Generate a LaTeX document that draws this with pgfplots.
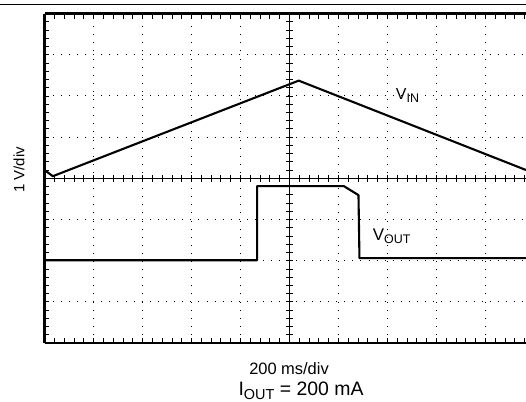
\documentclass[border=0pt]{standalone}
\usepackage{pgfplots}
\pgfplotsset{compat=1.18}
\usepackage{fontspec}
\setmainfont{Liberation Sans}

\newcommand{\sub}[1]{\raisebox{-3.5bp}{\fontsize{12.5}{12.5}\selectfont #1}}

\begin{document}
\begin{tikzpicture}
  \path[use as bounding box] (0,0) rectangle (526bp,402bp);
  % thin frame line above the plot
  \draw[line width=0.9bp] (0,398bp) -- (526bp,398bp);

  \begin{axis}[
      at={(44.5bp,59bp)}, anchor=south west,
      scale only axis,
      width=481.5bp, height=329.5bp,
      xmin=0, xmax=9.83,
      ymin=0, ymax=8,
      axis y line*=left,
      axis line style={line width=2.4bp},
      xtick={0,...,9}, ytick={0,...,8},
      minor xtick={0,0.2,...,9.8},
      minor ytick={0,0.2,...,8},
      xticklabels={}, yticklabels={},
      tick align=inside,
      major tick length=5bp, minor tick length=5bp,
      every tick/.style={black, line width=0.7bp},
      grid=major,
      major grid style={black, line width=0.9bp, dash pattern=on 0.9bp off 7.2bp},
      clip=false,
    ]
    % centre axes with their ticks
    \draw[line width=1bp] (axis cs:0,4) -- (axis cs:9.83,4);
    \draw[line width=1bp] (axis cs:5,0) -- (axis cs:5,8);
    \pgfplotsinvokeforeach{0.2,0.4,...,9.8}{
      \draw[line width=0.7bp] (axis cs:#1,4) ++(0,-3.5bp) -- ++(0,7bp);
    }
    \pgfplotsinvokeforeach{0.2,0.4,...,7.8}{
      \draw[line width=0.7bp] (axis cs:5,#1) ++(-3.5bp,0) -- ++(7bp,0);
    }

    % V_IN
    \addplot[black, line width=2.1bp, line join=round] coordinates {
      (0,4.2) (0.17,4.05) (5.19,6.37) (9.83,4.2)
    };
    % V_OUT
    \addplot[black, line width=2.1bp, line join=round] coordinates {
      (0,2.01) (4.34,2.01) (4.34,3.81) (6.11,3.81) (6.41,3.59) (6.43,2.06) (9.83,2.06)
    };

    \node[anchor=base west, inner sep=0pt, font=\fontsize{16}{18}\selectfont]
      at (axis cs:7.17,5.92) {V\sub{IN}};
    \node[anchor=base west, inner sep=0pt, font=\fontsize{17}{18}\selectfont]
      at (axis cs:6.70,2.50) {V\sub{OUT}};
  \end{axis}

  \node[rotate=90, inner sep=0pt, font=\fontsize{15}{17}\selectfont]
    at (19bp,232bp) {1 V/div};
  \node[anchor=base, inner sep=0pt, font=\fontsize{16.5}{18}\selectfont]
    at (289bp,28bp) {200 ms/div};
  \node[anchor=base, inner sep=0pt, font=\fontsize{19.5}{22}\selectfont]
    at (301bp,7bp) {I\raisebox{-4bp}{\fontsize{14.5}{14.5}\selectfont OUT} = 200 mA};
\end{tikzpicture}
\end{document}
